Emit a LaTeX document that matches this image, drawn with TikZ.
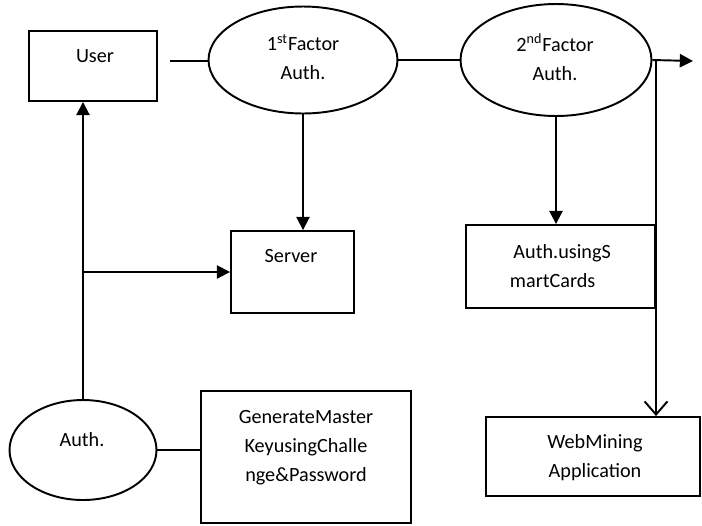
\documentclass[tikz,border=0pt]{standalone}
\usepackage{fontspec}
\setmainfont{Carlito}
\usetikzlibrary{arrows.meta,shapes.geometric}
\begin{document}
\begin{tikzpicture}[x=0.02cm, y=-0.02cm, line width=1.1pt,
    every node/.style={font=\fontsize{11.5}{16.5}\selectfont},
    box/.style={draw, rectangle, inner sep=0pt},
    oval/.style={draw, ellipse, inner sep=0pt},
    txt/.style={align=center, inner sep=0pt},
    fillarrow/.style={-{Triangle[length=7.5pt,width=7.5pt]}},
    openarrow/.style={-{Straight Barb[length=7.5pt,width=13pt]}}]
    \useasboundingbox (0,0) rectangle (702,525);
    \node [box, minimum width=2.56cm, minimum height=1.4cm] (user) at (93,66) {};
    \node [oval, minimum width=3.78cm, minimum height=2.14cm] (f1) at (303,60) {};
    \node [oval, minimum width=3.82cm, minimum height=2.24cm] (f2) at (556,60) {};
    \node [box, minimum width=2.46cm, minimum height=1.64cm] (server) at (292.5,272) {};
    \node [box, minimum width=3.78cm, minimum height=1.66cm] (smart) at (560.5,266.5) {};
    \node [box, minimum width=4.28cm, minimum height=1.58cm] (web) at (593,456.5) {};
    \node [box, minimum width=4.2cm, minimum height=2.64cm] (gen) at (306,457) {};
    \node [oval, minimum width=2.94cm, minimum height=2cm] (auth) at (83,450) {};
    \node [txt] (usertxt) at (95,56) {User};
    \node [txt] (f1txt) at (303,57) {1\textsuperscript{st}Factor\\Auth.};
    \node [txt] (f2txt) at (555,57) {2\textsuperscript{nd}Factor\\Auth.};
    \node [txt] (servertxt) at (291,256) {Server};
    \node [txt, align=left, anchor=west] (smarttxt) at (509,266) {\hspace{2pt}Auth.usingS\\martCards};
    \node [txt] (webtxt) at (595,458) {WebMining\\Application};
    \node [txt] (gentxt) at (306,448) {GenerateMaster\\KeyusingChalle\\nge\&Password};
    \node [txt] (authtxt) at (82,440) {Auth.};
    \coordinate (userout) at (170,61);
    \coordinate (out) at (693,61);
    \coordinate (split) at (656,61);
    \draw (userout) -- (userout -| f1.west);
    \draw (f1.east) -- (f2.west);
    \draw [fillarrow] (f2.east) -- (out);
    \draw [openarrow] (split) -- (split |- web.north);
    \draw [fillarrow] (f1.south) -- (f1.south |- server.north);
    \draw [fillarrow] (f2.south) -- (f2.south |- smart.north);
    \draw [fillarrow] (auth.north) -- (auth.north |- user.south);
    \draw [fillarrow] (server.west -| auth.north) -- (server.west);
    \draw (auth.east) -- (auth.east -| gen.west);
\end{tikzpicture}
\end{document}
